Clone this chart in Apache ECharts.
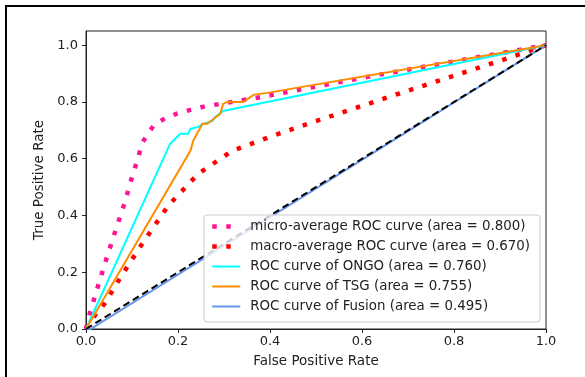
<!DOCTYPE html>
<html><head><meta charset="utf-8">
<script src="https://cdn.jsdelivr.net/npm/echarts@6/dist/echarts.min.js"></script>
<style>html,body{margin:0;padding:0;background:#fff;}#c{width:585px;height:377px;}</style>
</head><body><div id="c"></div>
<script>
var xTicks = [0, 0.2, 0.4, 0.6, 0.8, 1.0];
var yTicks = [0, 0.2, 0.4, 0.6, 0.8, 1.0];
var seriesNames = [
  'micro-average ROC curve (area = 0.800)',
  'macro-average ROC curve (area = 0.670)',
  'ROC curve of ONGO (area = 0.760)',
  'ROC curve of TSG (area = 0.755)',
  'ROC curve of Fusion (area = 0.495)'
];
var microROC = [[0,0],[0.009,0.06],[0.028,0.161],[0.046,0.256],[0.065,0.351],[0.085,0.449],[0.102,0.547],[0.113,0.6],[0.121,0.652],[0.135,0.69],[0.150,0.723],[0.172,0.742],[0.196,0.758],[0.227,0.772],[0.26,0.785],[0.292,0.793],[0.383,0.818],[0.505,0.856],[0.63,0.894],[1,1]];
var macroROC = [[0,0],[0.02,0.049],[0.041,0.091],[0.074,0.179],[0.124,0.305],[0.179,0.435],[0.244,0.547],[0.318,0.628],[0.407,0.681],[0.462,0.712],[0.553,0.761],[0.678,0.828],[0.797,0.891],[0.917,0.954],[1,1]];
var ongoROC = [[0,0],[0.183,0.653],[0.205,0.688],[0.222,0.688],[0.227,0.705],[0.244,0.712],[0.255,0.723],[0.275,0.733],[0.281,0.747],[0.298,0.768],[1,1]];
var tsgROC = [[0,0],[0.227,0.628],[0.233,0.663],[0.253,0.723],[0.264,0.723],[0.277,0.74],[0.292,0.758],[0.298,0.793],[0.307,0.8],[0.342,0.8],[0.351,0.81],[0.364,0.825],[0.394,0.832],[1,1]];
var fusionROC = [[0,0],[0.01,0],[1,1]];
var chanceLine = [[0,0],[1,1]];

var chart = echarts.init(document.getElementById('c'), null, {renderer:'canvas'});
var font = 'DejaVu Sans';
var txt = '#222';
var dotDash = [4.5, 9.5];
var legDotDash = [4.5, 9.5, 4.5, 200];
function ln(name, data, color, width, type, z) {
  return {name:name, type:'line', data:data, symbol:'none', animation:false, z:z||2,
    lineStyle:{color:color, width:width, type:type, cap:'butt', join:'miter'},
    itemStyle:{color:color}, silent:true};
}
function legItem(name, color, width, type) {
  return {name:name, lineStyle:{color:color, width:width, type:type, cap:'butt'}, itemStyle:{opacity:0}};
}
chart.setOption({
  animation:false,
  backgroundColor:'#fff',
  textStyle:{fontFamily:font},
  graphic:[{type:'rect', shape:{x:6, y:6, width:900, height:900}, style:{fill:'none', stroke:'#000', lineWidth:2}, silent:true}],
  grid:{left:86, right:39, top:31, bottom:48, show:true, borderColor:'#222', borderWidth:1, backgroundColor:'#fff'},
  xAxis:{type:'value', min:0, max:1, interval:0.2,
    name:'False Positive Rate', nameLocation:'middle', nameGap:25,
    nameTextStyle:{fontFamily:font, fontSize:13.5, color:txt},
    axisLine:{show:true, lineStyle:{color:'#222', width:1}},
    axisTick:{show:true, length:4, inside:false, lineStyle:{color:'#222'}, customValues:xTicks},
    axisLabel:{fontFamily:font, fontSize:13, color:txt, margin:6, customValues:xTicks, formatter:function(v){return v.toFixed(1);}},
    splitLine:{show:false}},
  yAxis:{type:'value', min:0, max:1.05, interval:0.2,
    name:'True Positive Rate', nameLocation:'middle', nameGap:38, nameRotate:90,
    nameTextStyle:{fontFamily:font, fontSize:13.5, color:txt},
    axisLine:{show:true, lineStyle:{color:'#222', width:1}},
    axisTick:{show:true, length:4, inside:false, lineStyle:{color:'#222'}, customValues:yTicks},
    axisLabel:{fontFamily:font, fontSize:13, color:txt, margin:8, customValues:yTicks, formatter:function(v){return v.toFixed(1);}},
    splitLine:{show:false}},
  legend:{orient:'vertical', left:204, top:215,
    data:[
      legItem(seriesNames[0], '#ff1493', 4.5, legDotDash),
      legItem(seriesNames[1], '#ff0000', 4.5, legDotDash),
      legItem(seriesNames[2], '#00ffff', 2, 'solid'),
      legItem(seriesNames[3], '#ff8c00', 2, 'solid'),
      legItem(seriesNames[4], '#6495ed', 2, 'solid')
    ],
    itemWidth:28, itemHeight:14, itemGap:7,
    padding:[5, 10, 9, 6],
    backgroundColor:'rgba(255,255,255,0.8)', borderColor:'#ccc', borderWidth:1, borderRadius:3,
    itemStyle:{opacity:0},
    textStyle:{fontFamily:font, fontSize:13.4, color:txt, padding:[0,0,0,5]},
    selectedMode:false},
  series:[
    ln(seriesNames[0], microROC, '#ff1493', 4.5, dotDash),
    ln(seriesNames[1], macroROC, '#ff0000', 4.5, dotDash),
    ln(seriesNames[2], ongoROC, '#00ffff', 2, 'solid'),
    ln(seriesNames[3], tsgROC, '#ff8c00', 2, 'solid'),
    ln(seriesNames[4], fusionROC, '#6495ed', 2, 'solid'),
    ln('chance', chanceLine, '#000000', 2, [7, 4], 3)
  ]
});
</script></body></html>
